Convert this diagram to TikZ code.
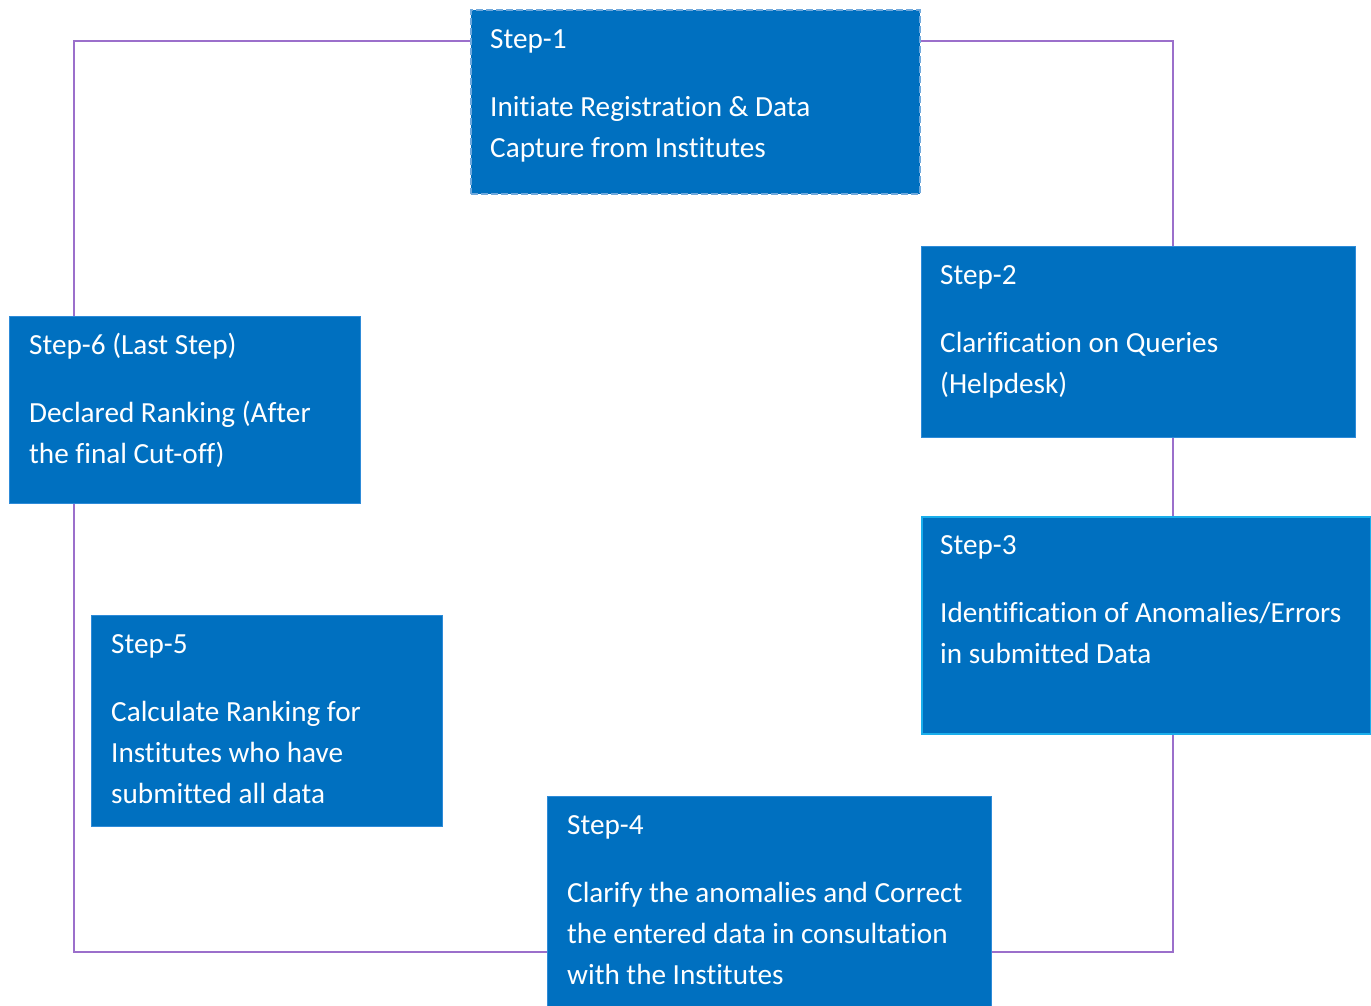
\documentclass[tikz,border=0pt]{standalone}
\usepackage{fontspec}
\setmainfont[Ligatures=CommonOff]{Carlito}
\definecolor{boxblue}{HTML}{0070C0}
\definecolor{edgeblue}{HTML}{2E8BD8}
\definecolor{cyanedge}{HTML}{1AAEEB}
\definecolor{dashblue}{HTML}{6FA8DC}
\definecolor{loopline}{HTML}{9B6FCB}
\begin{document}
\begin{tikzpicture}[x=1pt,y=-1pt,
  stepbox/.style={rectangle, fill=boxblue, draw=edgeblue, line width=0.8pt, anchor=north west, inner sep=0pt},
  txt/.style={anchor=base west, inner sep=0pt, text=white, font=\fontsize{29.2}{41}\selectfont},
  loop/.style={draw=loopline, line width=1.5pt}
]
\useasboundingbox (0,0) rectangle (1371,1005);
% loop corners
\coordinate (tl) at (74,41);
\coordinate (tr) at (1173,41);
\coordinate (br) at (1173,952);
\coordinate (bl) at (74,952);
\draw[loop] (tl) -- (tr) -- (br) -- (bl) -- cycle;

% boxes
\node[stepbox, draw=dashblue, line width=2pt, dash pattern=on 7pt off 3pt, minimum width=449, minimum height=184] (s1) at (470,9) {};
\node[stepbox, minimum width=434, minimum height=191] (s2) at (921,246) {};
\node[stepbox, draw=cyanedge, line width=1.5pt, minimum width=449, minimum height=217] (s3) at (921,516) {};
\node[stepbox, minimum width=444, minimum height=212] (s4) at (547,796) {};
\node[stepbox, minimum width=351, minimum height=211] (s5) at (91,615) {};
\node[stepbox, minimum width=351, minimum height=187] (s6) at (9,316) {};

% Step-1
\node[txt] (s1a) at ([shift={(20,39)}]s1.north west) {Step-1};
\node[txt] (s1b) at ([shift={(20,107)}]s1.north west) {Initiate Registration \& Data};
\node[txt] (s1c) at ([shift={(20,148)}]s1.north west) {Capture from Institutes};
% Step-2
\node[txt] (s2a) at ([shift={(19,38)}]s2.north west) {Step-2};
\node[txt] (s2b) at ([shift={(19,106)}]s2.north west) {Clarification on Queries};
\node[txt] (s2c) at ([shift={(19,147)}]s2.north west) {(Helpdesk)};
% Step-3
\node[txt] (s3a) at ([shift={(19,38)}]s3.north west) {Step-3};
\node[txt] (s3b) at ([shift={(19,106)}]s3.north west) {Identification of Anomalies/Errors};
\node[txt] (s3c) at ([shift={(19,147)}]s3.north west) {in submitted Data};
% Step-4
\node[txt] (s4a) at ([shift={(20,38)}]s4.north west) {Step-4};
\node[txt] (s4b) at ([shift={(20,106)}]s4.north west) {Clarify the anomalies and Correct};
\node[txt] (s4c) at ([shift={(20,147)}]s4.north west) {the entered data in consultation};
\node[txt] (s4d) at ([shift={(20,188)}]s4.north west) {with the Institutes};
% Step-5
\node[txt] (s5a) at ([shift={(20,38)}]s5.north west) {Step-5};
\node[txt] (s5b) at ([shift={(20,106)}]s5.north west) {Calculate Ranking for};
\node[txt] (s5c) at ([shift={(20,147)}]s5.north west) {Institutes who have};
\node[txt] (s5d) at ([shift={(20,188)}]s5.north west) {submitted all data};
% Step-6
\node[txt] (s6a) at ([shift={(20,38)}]s6.north west) {Step-6 (Last Step)};
\node[txt] (s6b) at ([shift={(20,106)}]s6.north west) {Declared Ranking (After};
\node[txt] (s6c) at ([shift={(20,147)}]s6.north west) {the final Cut-off)};
\end{tikzpicture}
\end{document}
